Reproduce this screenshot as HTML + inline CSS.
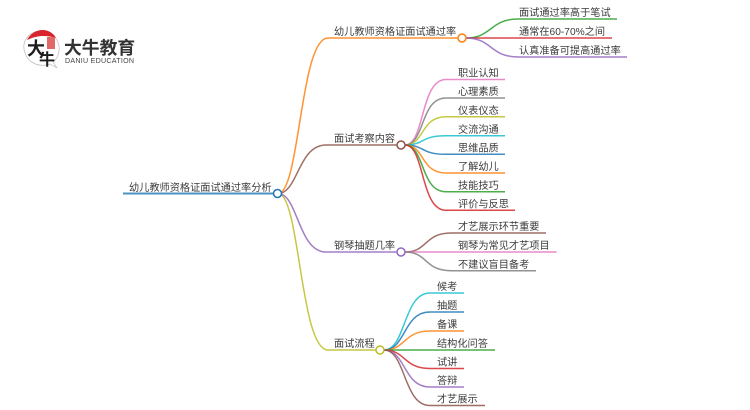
<!DOCTYPE html>
<html><head><meta charset="utf-8"><style>
html,body{margin:0;padding:0;background:#fff;width:750px;height:410px;overflow:hidden}
svg{display:block;filter:blur(.3px)}
.t{font-family:"Liberation Sans","Noto Sans CJK SC",sans-serif;font-size:10.2px;fill:#3c3c3c}
path{fill:none;stroke-width:1.5}
circle{fill:#fff;stroke-width:1.5}
</style></head><body>
<svg width="750" height="410" viewBox="0 0 750 410" xmlns="http://www.w3.org/2000/svg">
<!-- logo -->
<path d="M50 64 C38 68 28 62 25 53 C21 42 28 33 38 31 C48 29 57 36 59 46 C60 53 57 59 53 62 L57 68 Z" style="fill:#fff;stroke:#bbb;stroke-width:.7"/>
<path d="M27 40 C31 32 40 28 48 31 C53 33 55 36 56 38 C47 35 37 35 27 40Z" style="fill:#d7252b;stroke:none"/>
<rect x="47" y="37" width="8" height="12" fill="#e06a6a"/>
<text x="27" y="55" font-family="'Noto Sans CJK SC',sans-serif" font-size="18" font-weight="700" fill="#1c1c1c">大</text>
<text x="39" y="65" font-family="'Noto Sans CJK SC',sans-serif" font-size="16" font-weight="700" fill="#1c1c1c">牛</text>
<text x="64" y="54" font-family="'Liberation Sans','Noto Sans CJK SC',sans-serif" font-size="17.800" font-weight="700" fill="#333">大牛教育</text>
<text x="65" y="63" font-family="'Liberation Sans',sans-serif" font-size="7.100" fill="#444" textLength="69">DANIU EDUCATION</text>

<!-- root connectors -->
<path d="M278 193.500 C300 193.500 300 38 328 38 L458 38" stroke="#ff7f0e" opacity=".85"/>
<path d="M278 193.500 C296 193.500 297 120 325 145 L397 145" stroke="none"/>
<path d="M278 193.500 C298 193.500 298 145 326 145 L397 145" stroke="#8c564b" opacity=".85"/>
<path d="M278 193.500 C298 193.500 298 252 326 252 L397 252" stroke="#9467bd" opacity=".85"/>
<path d="M278 193.500 C300 193.500 300 350 328 350 L376 350" stroke="#bcbd22" opacity=".85"/>
<path d="M123 193.500 L273 193.500" stroke="#1f77b4" style="stroke-width:2" opacity=".8"/>
<circle cx="277.500" cy="193.500" r="4" stroke="#1f77b4"/>

<!-- branch 1 -->
<path d="M466 38 C492 38 490 19 518 19 L617 19" stroke="#2ca02c" opacity=".85"/>
<path d="M466 38 L612 38" stroke="#d62728" opacity=".85"/>
<path d="M466 38 C492 38 490 57 518 57 L627 57" stroke="#9467bd" opacity=".85"/>
<circle cx="462" cy="38" r="4" stroke="#ff7f0e"/>

<!-- branch 2 -->
<path d="M405 145 C425 145 420 79.500 446 79.500 L505 79.500" stroke="#e377c2" opacity=".85"/>
<path d="M405 145 C425 145 420 98 446 98 L505 98" stroke="#7f7f7f" opacity=".85"/>
<path d="M405 145 C425 145 420 116.700 446 116.700 L505 116.700" stroke="#bcbd22" opacity=".85"/>
<path d="M405 145 C425 145 420 135.700 446 135.700 L505 135.700" stroke="#17becf" opacity=".85"/>
<path d="M405 145 C425 145 420 154.300 446 154.300 L505 154.300" stroke="#1f77b4" opacity=".85"/>
<path d="M405 145 C425 145 420 173 446 173 L505 173" stroke="#ff7f0e" opacity=".85"/>
<path d="M405 145 C425 145 420 191.700 446 191.700 L505 191.700" stroke="#2ca02c" opacity=".85"/>
<path d="M405 145 C425 145 420 210.300 446 210.300 L515 210.300" stroke="#d62728" opacity=".85"/>
<circle cx="401" cy="145" r="4" stroke="#8c564b"/>

<!-- branch 3 -->
<path d="M405 252 C428 252 424 233 451 233 L546 233" stroke="#8c564b" opacity=".85"/>
<path d="M405 252 L556.500 252" stroke="#e377c2" opacity=".85"/>
<path d="M405 252 C428 252 424 270.700 451 270.700 L536 270.700" stroke="#7f7f7f" opacity=".85"/>
<circle cx="401" cy="252" r="4" stroke="#9467bd"/>

<!-- branch 4 -->
<path d="M384 350 C406 350 403 293 430 293 L464 293" stroke="#17becf" opacity=".85"/>
<path d="M384 350 C406 350 403 312 430 312 L464 312" stroke="#1f77b4" opacity=".85"/>
<path d="M384 350 C406 350 403 331 430 331 L464 331" stroke="#ff7f0e" opacity=".85"/>
<path d="M384 350 L495 350" stroke="#2ca02c" opacity=".85"/>
<path d="M384 350 C406 350 403 368.500 430 368.500 L464 368.500" stroke="#d62728" opacity=".85"/>
<path d="M384 350 C406 350 403 387 430 387 L464 387" stroke="#9467bd" opacity=".85"/>
<path d="M384 350 C406 350 403 405.500 430 405.500 L485 405.500" stroke="#8c564b" opacity=".85"/>
<circle cx="380" cy="350" r="4" stroke="#bcbd22"/>

<!-- labels -->
<text class="t" x="129" y="191">幼儿教师资格证面试通过率分析</text>
<text class="t" x="334" y="35">幼儿教师资格证面试通过率</text>
<text class="t" x="334" y="142">面试考察内容</text>
<text class="t" x="334" y="249">钢琴抽题几率</text>
<text class="t" x="334" y="347">面试流程</text>

<text class="t" x="519" y="16">面试通过率高于笔试</text>
<text class="t" x="519" y="35">通常在60-70%之间</text>
<text class="t" x="519" y="54">认真准备可提高通过率</text>

<text class="t" x="458" y="76.500">职业认知</text>
<text class="t" x="458" y="95">心理素质</text>
<text class="t" x="458" y="114">仪表仪态</text>
<text class="t" x="458" y="133">交流沟通</text>
<text class="t" x="458" y="151.500">思维品质</text>
<text class="t" x="458" y="170">了解幼儿</text>
<text class="t" x="458" y="189">技能技巧</text>
<text class="t" x="458" y="207.500">评价与反思</text>

<text class="t" x="458" y="230">才艺展示环节重要</text>
<text class="t" x="458" y="249">钢琴为常见才艺项目</text>
<text class="t" x="458" y="268">不建议盲目备考</text>

<text class="t" x="437" y="290">候考</text>
<text class="t" x="437" y="309">抽题</text>
<text class="t" x="437" y="328">备课</text>
<text class="t" x="437" y="347">结构化问答</text>
<text class="t" x="437" y="365.500">试讲</text>
<text class="t" x="437" y="384">答辩</text>
<text class="t" x="437" y="402.500">才艺展示</text>
</svg>
</body></html>
